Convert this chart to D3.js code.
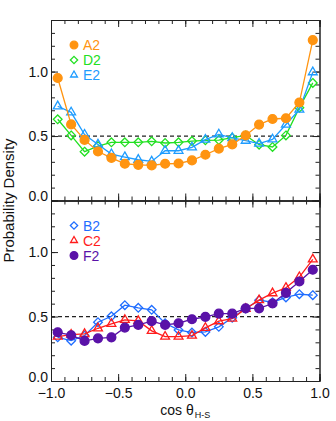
<!DOCTYPE html>
<html>
<head>
<meta charset="utf-8">
<script src="https://cdn.jsdelivr.net/npm/d3@7"></script>
<style>
  body { margin: 0; background: #fff; }
  svg text { font-family: "Liberation Sans", Arial, sans-serif; }
</style>
</head>
<body>
<div id="chart-area"></div>
<script>
// bin centres of cos(theta_H-S)
let cosBins = [-0.95, -0.85, -0.75, -0.65, -0.55, -0.45, -0.35, -0.25, -0.15, -0.05,
  0.05, 0.15, 0.25, 0.35, 0.45, 0.55, 0.65, 0.75, 0.85, 0.95];

// top panel
let a2 = [0.95, 0.59, 0.47, 0.38, 0.33, 0.285, 0.277, 0.272, 0.285, 0.287,
  0.311, 0.355, 0.402, 0.435, 0.505, 0.589, 0.632, 0.638, 0.76, 1.244];
let d2 = [0.63, 0.505, 0.379, 0.422, 0.451, 0.451, 0.451, 0.459, 0.446, 0.451,
  0.461, 0.467, 0.469, 0.487, 0.505, 0.433, 0.415, 0.505, 0.72, 0.912];
let e2 = [0.731, 0.684, 0.511, 0.435, 0.36, 0.337, 0.316, 0.303, 0.386, 0.386,
  0.412, 0.472, 0.513, 0.485, 0.464, 0.441, 0.474, 0.589, 0.705, 0.995];

// bottom panel
let b2 = [0.339, 0.313, 0.352, 0.456, 0.502, 0.588, 0.568, 0.552, 0.448, 0.396,
  0.376, 0.381, 0.42, 0.49, 0.562, 0.627, 0.611, 0.648, 0.673, 0.666];
let c2 = [0.344, 0.36, 0.365, 0.409, 0.443, 0.474, 0.466, 0.389, 0.344, 0.344,
  0.352, 0.412, 0.464, 0.484, 0.56, 0.627, 0.681, 0.723, 0.806, 0.943];
let f2 = [0.378, 0.355, 0.311, 0.331, 0.339, 0.414, 0.435, 0.464, 0.435, 0.448,
  0.479, 0.497, 0.523, 0.523, 0.564, 0.564, 0.601, 0.684, 0.772, 0.863];

let xTicks = [-1.0, -0.5, 0.0, 0.5, 1.0];
let yTicks = [0.0, 0.5, 1.0];
let refLevel = 0.5;

let svgW = 336;
let svgH = 421;

let margin = { left: 51, right: 16.5, top: 20 };
let panelH = 180.5;

let x = d3.scaleLinear().domain([-1, 1]).range([margin.left, svgW - margin.right]);

let svg = d3.select("#chart-area")
  .append("svg")
  .attr("width", svgW)
  .attr("height", svgH);

const symbolType = { circle: d3.symbolCircle, diamond: d3.symbolDiamond2, triangle: d3.symbolTriangle2 };
const symbolSize = { circle: 62, diamond: 48, triangle: 56 };

const drawPanel = (top, series, showXLabels) => {
  let y = d3.scaleLinear().domain([0, 1.4]).range([top + panelH, top]);
  let g = svg.append("g");

  // axes, ticks inward on all four sides
  let minorX = d3.range(-1, 1.0001, 0.1);
  let minorY = d3.range(0, 1.4001, 0.1);

  let xb = g.append("g")
    .attr("transform", `translate(0,${top + panelH})`)
    .call(d3.axisBottom(x).tickValues(xTicks).tickSize(-7).tickFormat(showXLabels ? d3.format(".1f") : ""));
  xb.selectAll("text").attr("y", 7);
  g.append("g")
    .attr("transform", `translate(0,${top + panelH})`)
    .call(d3.axisBottom(x).tickValues(minorX).tickSize(-4).tickFormat(""));
  g.append("g")
    .attr("transform", `translate(0,${top})`)
    .call(d3.axisTop(x).tickValues(xTicks).tickSize(-7).tickFormat(""));
  g.append("g")
    .attr("transform", `translate(0,${top})`)
    .call(d3.axisTop(x).tickValues(minorX).tickSize(-4).tickFormat(""));

  let yl = g.append("g")
    .attr("transform", `translate(${margin.left},0)`)
    .call(d3.axisLeft(y).tickValues(yTicks).tickSize(-7).tickFormat(d3.format(".1f")));
  yl.selectAll("text").attr("x", -3);
  // the zero label sits a little above its tick, as in the original
  yl.selectAll(".tick").filter(d => d === 0).select("text").attr("y", -4);
  g.append("g")
    .attr("transform", `translate(${margin.left},0)`)
    .call(d3.axisLeft(y).tickValues(minorY).tickSize(-4).tickFormat(""));
  g.append("g")
    .attr("transform", `translate(${svgW - margin.right},0)`)
    .call(d3.axisRight(y).tickValues(yTicks).tickSize(-7).tickFormat(""));
  g.append("g")
    .attr("transform", `translate(${svgW - margin.right},0)`)
    .call(d3.axisRight(y).tickValues(minorY).tickSize(-4).tickFormat(""));

  g.selectAll(".domain").attr("stroke", "#222");
  g.selectAll(".tick line").attr("stroke", "#222");
  g.selectAll(".tick text")
    .attr("font-size", 14)
    .attr("fill", "#111");

  // reference line
  g.append("line")
    .attr("x1", x(-1)).attr("x2", x(1))
    .attr("y1", y(refLevel)).attr("y2", y(refLevel))
    .attr("stroke", "#222")
    .attr("stroke-width", 1.2)
    .attr("stroke-dasharray", "4,3");

  let line = d3.line().x((d, i) => x(cosBins[i])).y(d => y(d));

  series.forEach((s) => {
    g.append("path")
      .datum(s.values)
      .attr("fill", "none")
      .attr("stroke", s.color)
      .attr("stroke-width", 1.3)
      .attr("d", line);

    g.selectAll(null)
      .data(s.values)
      .enter()
      .append("path")
      .attr("transform", (d, i) => `translate(${x(cosBins[i])},${y(d)})`)
      .attr("d", d3.symbol().type(symbolType[s.marker]).size(symbolSize[s.marker])())
      .attr("fill", s.marker === "circle" ? s.color : "none")
      .attr("stroke", s.color)
      .attr("stroke-width", 1.3);
  });

  // legend
  let legend = g.selectAll(".legend")
    .data(series.slice().sort((a, b) => a.order - b.order))
    .enter()
    .append("g")
    .attr("transform", (d, i) => `translate(74,${top + 25 + i * 15})`);

  legend.append("path")
    .attr("d", d => d3.symbol().type(symbolType[d.marker]).size(d.marker === "circle" ? 46 : 34)())
    .attr("fill", d => d.marker === "circle" ? d.color : "none")
    .attr("stroke", d => d.color)
    .attr("stroke-width", 1.3);

  legend.append("text")
    .attr("x", 9)
    .attr("y", 5)
    .attr("font-size", 14)
    .attr("fill", d => d.color)
    .text(d => d.name);

  return y;
};

drawPanel(margin.top, [
  { name: "D2", values: d2, color: "#22e022", marker: "diamond", order: 1 },
  { name: "E2", values: e2, color: "#1e9cff", marker: "triangle", order: 2 },
  { name: "A2", values: a2, color: "#ff9411", marker: "circle", order: 0 }
], false);

drawPanel(margin.top + panelH, [
  { name: "B2", values: b2, color: "#1f6dff", marker: "diamond", order: 0 },
  { name: "C2", values: c2, color: "#ff1c1c", marker: "triangle", order: 1 },
  { name: "F2", values: f2, color: "#5a12a8", marker: "circle", order: 2 }
], true);

// axis titles
svg.append("text")
  .attr("transform", `translate(14,${margin.top + panelH}) rotate(-90)`)
  .attr("text-anchor", "middle")
  .attr("font-size", 15)
  .attr("fill", "#111")
  .text("Probability Density");

let xl = svg.append("text")
  .attr("x", x(0))
  .attr("y", 415)
  .attr("text-anchor", "middle")
  .attr("font-size", 14)
  .attr("fill", "#111");
xl.append("tspan").text("cos θ");
xl.append("tspan").attr("font-size", 9).attr("dx", 1).attr("dy", 3).text("H-S");
</script>
</body>
</html>
